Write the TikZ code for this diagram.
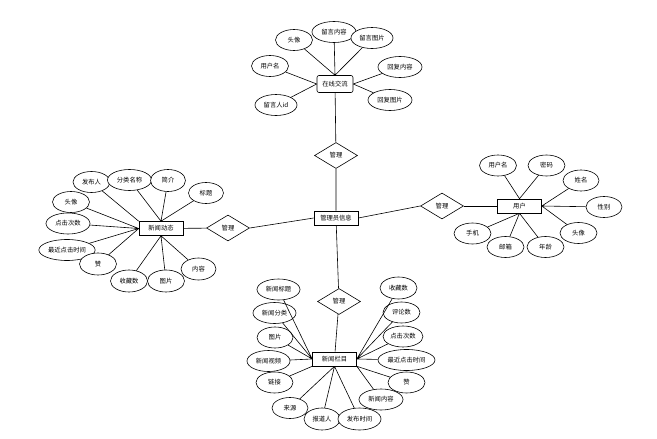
\documentclass[tikz,border=0pt]{standalone}
\usepackage{fontspec}
\newfontfamily\cjk{Noto Sans CJK SC}
\newcommand\erfont{\cjk\fontsize{6.3}{7}\selectfont}
\usetikzlibrary{shapes.geometric}

\tikzset{
  ent/.style={draw, rectangle, fill=white, minimum width=44pt, minimum height=14pt, inner sep=1pt, font=\erfont},
  rel/.style={draw, diamond, fill=white, minimum width=43pt, minimum height=26pt, inner sep=0pt, font=\erfont},
  attr/.style={draw, ellipse, fill=white, minimum width=37pt, minimum height=21pt, inner sep=1pt, font=\erfont},
  longattr/.style={attr, minimum width=44pt}
}

\begin{document}
\begin{tikzpicture}[x=1pt, y=-1pt, line width=0.6pt]
    \useasboundingbox (0,0) rectangle (657,439);

    % top: online chat
    \node[ent, rounded corners=2pt, minimum width=36pt, minimum height=17pt] (chat) at (335,84) {在线交流};
    \node[attr] (chatavatar) at (294,40) {头像};
    \node[longattr] (msgtext) at (334,32) {留言内容};
    \node[longattr, minimum width=42pt] (msgpic) at (372,38) {留言图片};
    \node[attr] (chatuser) at (270,66) {用户名};
    \node[longattr] (replytext) at (400,67) {回复内容};
    \node[longattr, minimum width=42pt] (msguid) at (276,105) {留言人id};
    \node[longattr] (replypic) at (390,100) {回复图片};
    \draw (chat.north) -- (chatavatar) (chat.north) -- (msgtext) (chat.north) -- (msgpic);
    \draw (chat.west) -- (chatuser) (chat.west) -- (msguid);
    \draw (chat.east) -- (replytext) (chat.east) -- (replypic);

    % center: admin and relations
    \node[rel] (mgtop) at (336,155.5) {管理};
    \node[ent] (admin) at (336,218) {管理员信息};
    \node[rel] (mgleft) at (228,228) {管理};
    \node[rel] (mgright) at (442,206) {管理};
    \node[rel] (mgbottom) at (339,301.5) {管理};
    \draw (chat) -- (mgtop) -- (admin);
    \draw (admin.west) -- (mgleft.east);
    \draw (admin.east) -- (mgright.west);
    \draw (admin) -- (mgbottom);

    % left: news
    \node[ent] (news) at (161,228.5) {新闻动态};
    \node[attr] (newsauthor) at (91.5,182) {发布人};
    \node[longattr] (newscat) at (129.5,180) {分类名称};
    \node[attr, minimum width=35pt, minimum height=22pt] (newsintro) at (168,180.5) {简介};
    \node[attr, minimum width=35pt] (newstitle) at (206,193) {标题};
    \node[attr] (newsavatar) at (71,202) {头像};
    \node[longattr] (newsclicks) at (68,223.5) {点击次数};
    \node[attr] (newslast) at (67,250) {最近点击时间};
    \node[attr, minimum height=22pt] (newslike) at (98,264) {赞};
    \node[attr, minimum height=22pt] (newsfav) at (129,281) {收藏数};
    \node[attr, minimum height=22pt] (newspic) at (166,281) {图片};
    \node[attr, minimum width=35pt, minimum height=22pt] (newsbody) at (198.5,269) {内容};
    \draw (mgleft) -- (news);
    \draw (news.north west) -- (newsauthor);
    \draw (news.north) -- (newscat) (news.north) -- (newsintro) (news.north) -- (newstitle);
    \draw (news.west) -- (newsavatar) (news.west) -- (newsclicks) (news.west) -- (newslast) (news.west) -- (newslike);
    \draw (news.south) -- (newsfav) (news.south) -- (newspic) (news.south) -- (newsbody);

    % right: user
    \node[ent] (user) at (519.5,206) {用户};
    \node[attr] (username) at (498,165.5) {用户名};
    \node[attr] (userpwd) at (546.5,165.5) {密码};
    \node[attr, minimum width=36pt] (realname) at (581,180.5) {姓名};
    \node[attr, minimum width=36pt] (usersex) at (604,207) {性别};
    \node[attr] (useravatar) at (578.5,233) {头像};
    \node[attr] (userage) at (545.5,247) {年龄};
    \node[attr] (usermail) at (505.5,247) {邮箱};
    \node[attr] (userphone) at (472.5,233.5) {手机};
    \draw (mgright) -- (user);
    \draw (user.north) -- (username) (user.north) -- (userpwd);
    \draw (user.east) -- (realname) (user.east) -- (usersex) (user.east) -- (useravatar);
    \draw (user.south) -- (userage) (user.south) -- (usermail) (user.south) -- (userphone);

    % bottom: news column
    \node[ent] (column) at (334.5,359) {新闻栏目};
    \node[longattr, minimum width=43pt] (coltitle) at (278.5,289.5) {新闻标题};
    \node[longattr, minimum width=43pt] (colcat) at (274.5,313) {新闻分类};
    \node[attr, minimum width=36pt] (colpic) at (275,337.5) {图片};
    \node[longattr, minimum width=43pt] (colvideo) at (268.5,361) {新闻视频};
    \node[attr] (collink) at (274.5,382.5) {链接};
    \node[attr, minimum width=36pt] (colsource) at (290,408) {来源};
    \node[attr, minimum width=36pt, minimum height=22pt] (colreporter) at (322,419) {报道人};
    \node[longattr, minimum width=43pt, minimum height=22pt] (coltime) at (359.5,419) {发布时间};
    \node[longattr] (colbody) at (381,399.5) {新闻内容};
    \node[attr] (collike) at (406.5,382.5) {赞};
    \node[attr, minimum width=57pt] (collast) at (406.5,360) {最近点击时间};
    \node[attr, minimum width=40pt] (colclicks) at (403,336.5) {点击次数};
    \node[attr] (colcomments) at (401.5,312.5) {评论数};
    \node[attr, minimum height=22pt] (colfav) at (398.5,288) {收藏数};
    \draw (mgbottom) -- (column);
    \draw (column.west) -- (coltitle) (column.west) -- (colcat) (column.west) -- (colpic) (column.west) -- (colvideo);
    \draw (column.south west) -- (collink);
    \draw (column.south) -- (colsource) (column.south) -- (colreporter) (column.south) -- (coltime);
    \draw (column.south east) -- (colbody) (column.south east) -- (collike);
    \draw (column.east) -- (collast) (column.east) -- (colclicks) (column.east) -- (colcomments) (column.east) -- (colfav);
\end{tikzpicture}
\end{document}
